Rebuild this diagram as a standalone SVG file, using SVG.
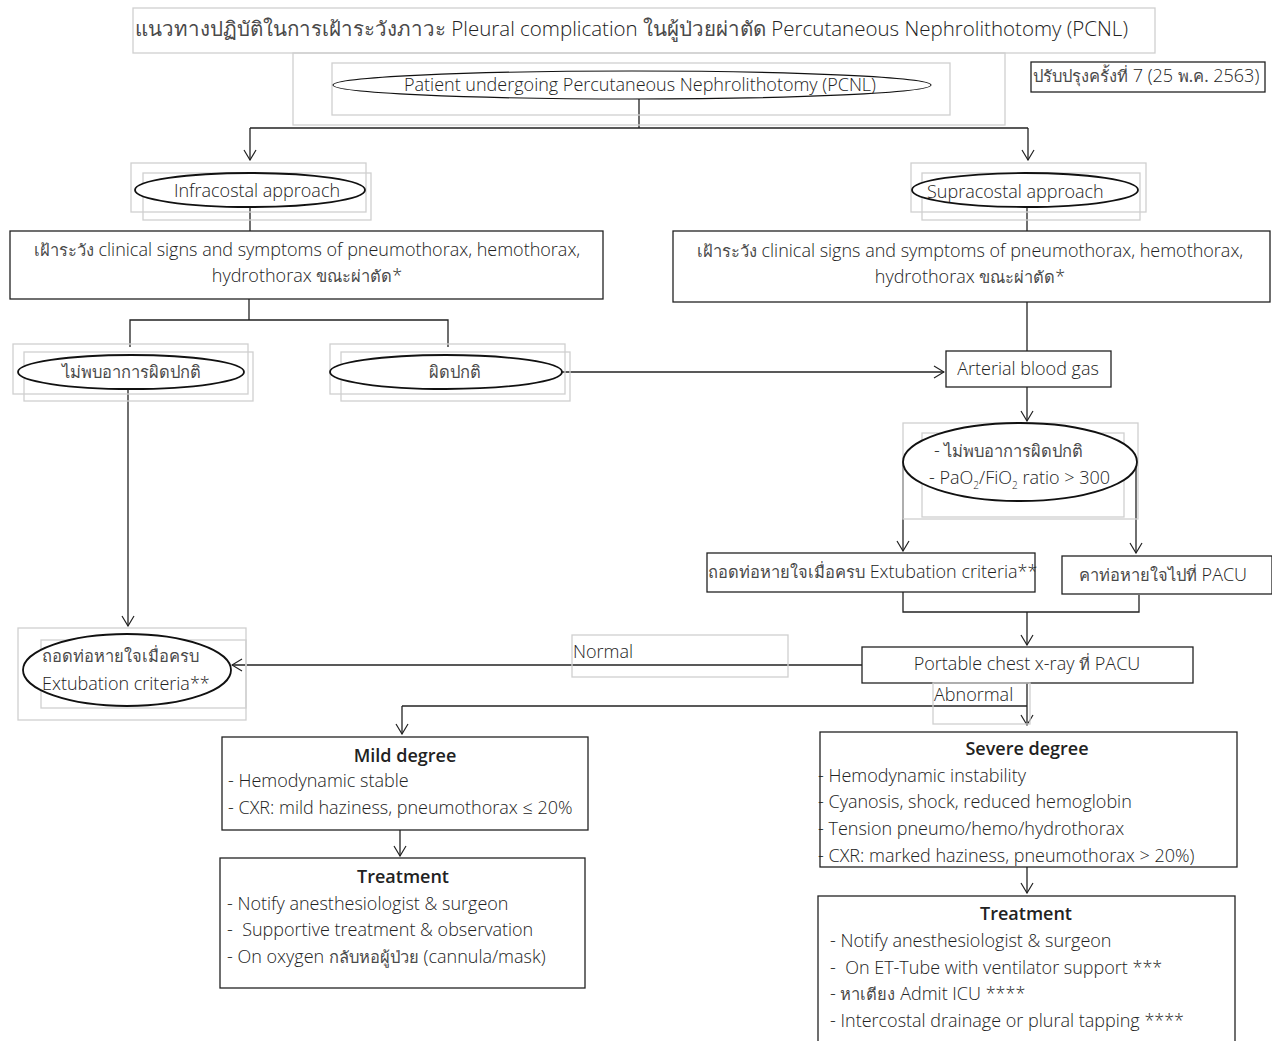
<svg xmlns="http://www.w3.org/2000/svg" width="1272" height="1041" viewBox="0 0 1272 1041">
<defs>
<marker id="arr" markerWidth="12" markerHeight="14" refX="11" refY="7" orient="auto" markerUnits="userSpaceOnUse">
<path d="M1,1 L11,7 L1,13" fill="none" stroke="#222" stroke-width="1.2"/>
</marker>
</defs>
<style>
text{font-family:"Open Sans","Noto Sans","DejaVu Sans",sans-serif;font-weight:300;fill:#222;font-size:18px}
.th{font-family:"Noto Sans",sans-serif;font-weight:normal;font-size:16.5px;fill:#4a4a4a}
.t .th{font-size:20.5px}
.g{fill:none;stroke:#d0d0d0;stroke-width:1.3}
.b{fill:#fff;stroke:#222;stroke-width:1.3}
.e{fill:#fff;stroke:#111;stroke-width:1.8}
.e1{fill:#fff;stroke:#111;stroke-width:1.1}
.c line,.c path{stroke:#222;stroke-width:1.3;fill:none}
.t{font-size:20.5px}
.h{font-weight:600}
.m{text-anchor:middle}
</style>
<rect width="1272" height="1041" fill="#fff"/>

<g id="title">
<rect class="g" x="133" y="8" width="1022" height="45"/>
<text class="t" x="135" y="36"><tspan class="th">แนวทางปฏิบัติในการเฝ้าระวังภาวะ</tspan> Pleural complication <tspan class="th">ในผู้ป่วยผ่าตัด</tspan> Percutaneous Nephrolithotomy (PCNL)</text>
</g>
<g id="version">
<rect class="b" x="1031" y="62" width="234" height="30"/>
<text x="1033" y="82" font-size="17"><tspan class="th">ปรับปรุงครั้งที่</tspan> 7 (25 <tspan class="th">พ.ค.</tspan> 2563)</text>
</g>

<g class="c" id="connectors">
<line x1="639" y1="99" x2="639" y2="128"/>
<path d="M250,128 L1028,128"/>
<line x1="250" y1="128" x2="250" y2="160" marker-end="url(#arr)"/>
<line x1="1028" y1="128" x2="1028" y2="160" marker-end="url(#arr)"/>
<line x1="250" y1="207" x2="250" y2="231"/>
<line x1="1027" y1="207" x2="1027" y2="231"/>
<line x1="249" y1="299" x2="249" y2="320"/>
<path d="M130,347 L130,320 L448,320 L448,347"/>
<line x1="562" y1="372" x2="944" y2="372" marker-end="url(#arr)"/>
<line x1="1027" y1="302" x2="1027" y2="351"/>
<line x1="1027" y1="387" x2="1027" y2="421" marker-end="url(#arr)"/>
<line x1="903" y1="462" x2="903" y2="551" marker-end="url(#arr)"/>
<line x1="1136" y1="462" x2="1136" y2="553" marker-end="url(#arr)"/>
<line x1="128" y1="389" x2="128" y2="626" marker-end="url(#arr)"/>
<path d="M903,592 L903,612 L1139,612 L1139,595"/>
<line x1="1027" y1="612" x2="1027" y2="645" marker-end="url(#arr)"/>
<line x1="862" y1="665" x2="232" y2="665" marker-end="url(#arr)"/>
<line x1="1027" y1="683" x2="1027" y2="725" marker-end="url(#arr)"/>
<path d="M1027,706 L402,706"/>
<line x1="402" y1="706" x2="402" y2="734" marker-end="url(#arr)"/>
<line x1="400" y1="830" x2="400" y2="856" marker-end="url(#arr)"/>
<line x1="1027" y1="867" x2="1027" y2="893" marker-end="url(#arr)"/>
</g>

<g id="patient">
<rect class="g" x="293" y="53" width="712" height="72"/>
<rect class="g" x="332" y="63" width="618" height="52"/>
<ellipse class="e1" cx="632" cy="85" rx="299" ry="14"/>
<text class="m" x="640" y="91">Patient undergoing Percutaneous Nephrolithotomy (PCNL)</text>
</g>

<g id="infracostal">
<rect class="g" x="131" y="163" width="235" height="49"/>
<rect class="g" x="143" y="173" width="228" height="47"/>
<ellipse class="e" cx="250" cy="190" rx="115" ry="17"/>
<text class="m" x="257" y="197">Infracostal approach</text>
</g>

<g id="monitor-left">
<rect class="b" x="10" y="231" width="593" height="68"/>
<text class="m" x="307" y="256"><tspan class="th">เฝ้าระวัง</tspan> clinical signs and symptoms of pneumothorax, hemothorax,</text>
<text class="m" x="307" y="282">hydrothorax <tspan class="th">ขณะผ่าตัด</tspan>*</text>
</g>

<g id="supracostal">
<rect class="g" x="911" y="163" width="235" height="49"/>
<rect class="g" x="922" y="173" width="218" height="47"/>
<ellipse class="e" cx="1025" cy="190" rx="113" ry="17"/>
<text x="927" y="198">Supracostal approach</text>
</g>

<g id="monitor-right">
<rect class="b" x="673" y="231" width="597" height="71"/>
<text class="m" x="970" y="257"><tspan class="th">เฝ้าระวัง</tspan> clinical signs and symptoms of pneumothorax, hemothorax,</text>
<text class="m" x="970" y="283">hydrothorax <tspan class="th">ขณะผ่าตัด</tspan>*</text>
</g>

<g id="normal-left">
<rect class="g" x="13" y="344" width="235" height="50"/>
<rect class="g" x="24" y="352" width="229" height="49"/>
<ellipse class="e" cx="131" cy="372" rx="113" ry="17"/>
<text class="m th" x="131" y="378">ไม่พบอาการผิดปกติ</text>
</g>

<g id="abnormal-left">
<rect class="g" x="330" y="344" width="235" height="50"/>
<rect class="g" x="341" y="352" width="229" height="49"/>
<ellipse class="e" cx="446" cy="372" rx="116" ry="17"/>
<text class="m th" x="455" y="378">ผิดปกติ</text>
</g>

<g id="abg">
<rect class="b" x="946" y="351" width="165" height="36"/>
<text class="m" x="1028" y="375">Arterial blood gas</text>
</g>

<g id="abg-normal">
<rect class="g" x="903" y="423" width="235" height="96"/>
<rect class="g" x="922" y="433" width="202" height="84"/>
<ellipse class="e" cx="1020" cy="462" rx="117" ry="39"/>
<text x="934" y="457">- <tspan class="th">ไม่พบอาการผิดปกติ</tspan></text>
<text x="929" y="484">- PaO<tspan font-size="10" dy="5">2</tspan><tspan dy="-5">/FiO</tspan><tspan font-size="10" dy="5">2</tspan><tspan dy="-5"> ratio &gt; 300</tspan></text>
</g>

<g id="extubate-or">
<rect class="b" x="707" y="553" width="328" height="39"/>
<text x="708" y="578"><tspan class="th">ถอดท่อหายใจเมื่อครบ</tspan> Extubation criteria**</text>
</g>

<g id="keep-tube">
<rect class="b" x="1062" y="556" width="210" height="38"/>
<text class="m" x="1163" y="581"><tspan class="th">คาท่อหายใจไปที่</tspan> PACU</text>
</g>

<g id="cxr">
<rect class="b" x="862" y="647" width="331" height="36"/>
<text class="m" x="1027" y="670">Portable chest x-ray <tspan class="th">ที่</tspan> PACU</text>
</g>

<g id="normal-label">
<rect class="g" x="572" y="635" width="216" height="42"/>
<text x="573" y="658">Normal</text>
</g>

<g id="abnormal-label">
<rect class="g" x="933" y="683" width="97" height="41"/>
<text x="934" y="701">Abnormal</text>
</g>

<g id="extubate-left">
<rect class="g" x="18" y="628" width="228" height="92"/>
<rect class="g" x="41" y="640" width="205" height="68"/>
<ellipse class="e" cx="127" cy="670" rx="104" ry="36"/>
<text class="th" x="42" y="662">ถอดท่อหายใจเมื่อครบ</text>
<text x="42" y="690">Extubation criteria**</text>
</g>

<g id="mild">
<rect class="b" x="222" y="737" width="366" height="93"/>
<text class="m h" x="405" y="762">Mild degree</text>
<text x="228" y="787">- Hemodynamic stable</text>
<text x="228" y="814">- CXR: mild haziness, pneumothorax ≤ 20%</text>
</g>

<g id="mild-treatment">
<rect class="b" x="220" y="858" width="365" height="130"/>
<text class="m h" x="403" y="883">Treatment</text>
<text x="227" y="910">- Notify anesthesiologist &amp; surgeon</text>
<text x="227" y="936" xml:space="preserve">-  Supportive treatment &amp; observation</text>
<text x="227" y="963">- On oxygen <tspan class="th">กลับหอผู้ป่วย</tspan> (cannula/mask)</text>
</g>

<g id="severe">
<rect class="b" x="820" y="732" width="417" height="135"/>
<text class="m h" x="1027" y="755">Severe degree</text>
<text x="818" y="782">- Hemodynamic instability</text>
<text x="818" y="808">- Cyanosis, shock, reduced hemoglobin</text>
<text x="818" y="835">- Tension pneumo/hemo/hydrothorax</text>
<text x="818" y="862">- CXR: marked haziness, pneumothorax &gt; 20%)</text>
</g>

<g id="severe-treatment">
<rect class="b" x="818" y="896" width="417" height="160"/>
<text class="m h" x="1026" y="920">Treatment</text>
<text x="830" y="947">- Notify anesthesiologist &amp; surgeon</text>
<text x="830" y="974" xml:space="preserve">-  On ET-Tube with ventilator support ***</text>
<text x="830" y="1000">- <tspan class="th">หาเตียง</tspan> Admit ICU ****</text>
<text x="830" y="1027">- Intercostal drainage or plural tapping ****</text>
</g>
</svg>
